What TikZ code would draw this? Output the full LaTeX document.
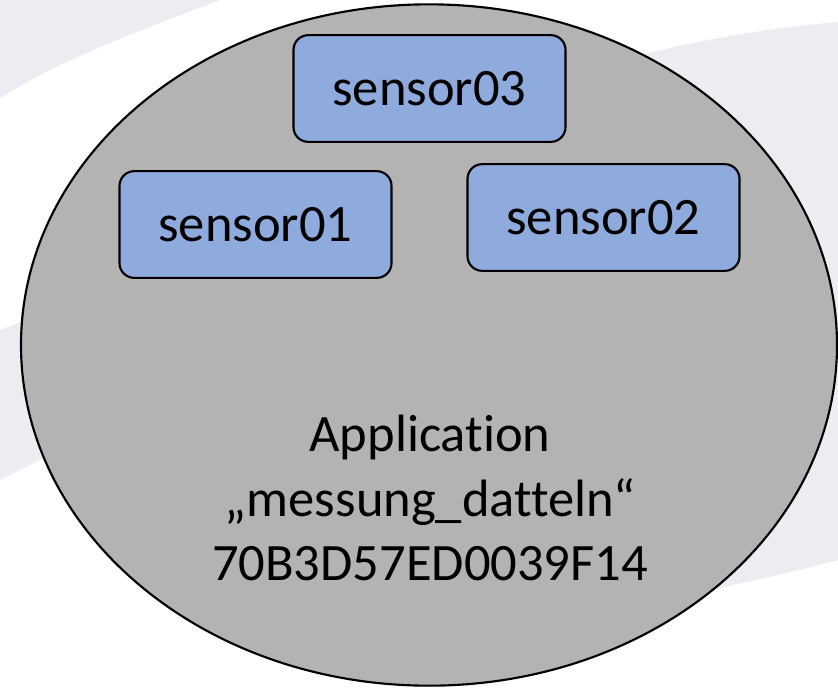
\documentclass[tikz,border=0pt]{standalone}
\usepackage{fontspec}
\setmainfont{Carlito}[Ligatures=NoCommon]
\usetikzlibrary{shapes.geometric}
\definecolor{appgrey}{RGB}{179,179,179}
\definecolor{sensorblue}{RGB}{143,170,220}
\definecolor{swoosh}{RGB}{236,237,242}

\begin{document}
\begin{tikzpicture}[
                x=0.75pt, y=-0.75pt,
                every node/.style={font=\fontsize{39.4}{48.4}\selectfont},
                sensor/.style={draw, fill=sensorblue, line width=1.6pt, rounded corners=11pt,
                    minimum width=204pt, minimum height=80pt, inner sep=0pt},
                app/.style={ellipse, draw, fill=appgrey, line width=1.6pt, inner sep=0pt,
                    minimum width=612pt, minimum height=511pt}
            ]

            % Background
            \useasboundingbox (0,0) rectangle (838,687);
            \fill[white] (0,0) rectangle (838,687);
            \fill[swoosh] (0,0) -- (220,0) .. controls (140,30) and (60,60) .. (0,98) -- cycle;
            \fill[swoosh] (0,330) .. controls (40,315) and (80,300) .. (120,290)
                -- (120,420) .. controls (80,440) and (40,460) .. (0,480) -- cycle;
            \fill[swoosh] (600,66) .. controls (690,40) and (770,28) .. (838,22)
                -- (838,560) .. controls (760,580) and (680,600) .. (600,600) -- cycle;

            % Define nodes
            \node[app] (appl) at (429,345) {};
            \node[sensor] (sensor03) at (429.5,88.5) {sensor03};
            \node[sensor] (sensor01) at (255.5,224.5) {sensor01};
            \node[sensor] (sensor02) at (603.5,217.5) {sensor02};
            \node[align=center, inner sep=0pt] (appname) at (430,498)
                {Application\\„messung\_datteln“\\70B3D57ED0039F14};

        \end{tikzpicture}
\end{document}
